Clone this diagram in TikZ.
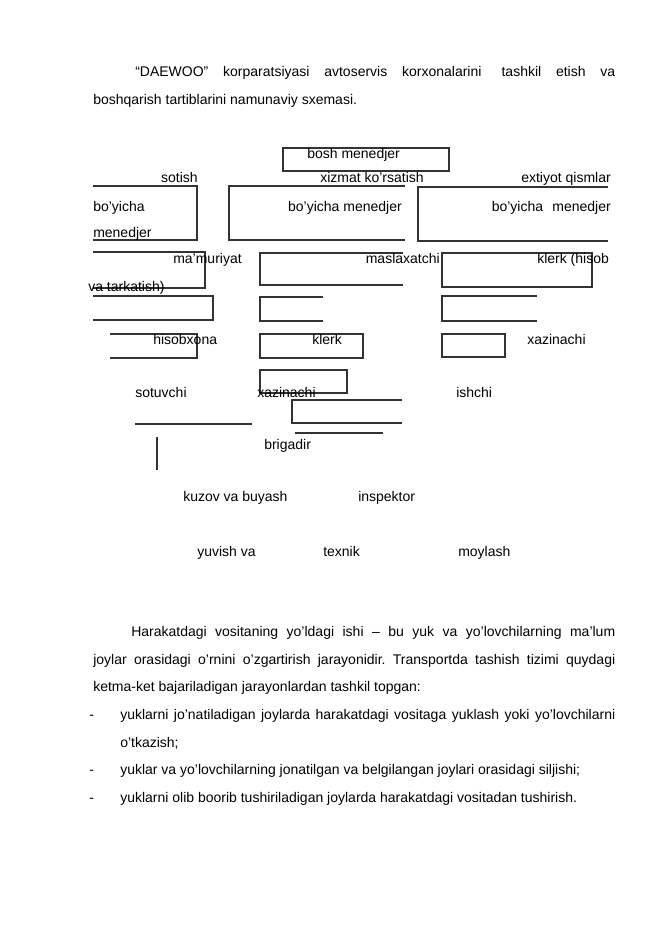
\documentclass[tikz,border=0pt]{standalone}
\usepackage{fontspec}
\setmainfont{Liberation Sans}
\begin{document}
\frenchspacing
\begin{tikzpicture}[x=0.75pt,y=-0.75pt]
\tikzset{
  ln/.style={draw=black!80, line width=0.85pt},
  txt/.style={inner sep=0pt, font=\fontsize{10.5}{12}\selectfont, text=black},
  tl/.style={txt, anchor=base west},
  tr/.style={txt, anchor=base east}
}
\useasboundingbox (0,0) rectangle (661,935);
\fill[white] (0,0) rectangle (661,935);

% title
\node[tl] (title1) at (135,76) {\makebox[360pt][s]{“DAEWOO” korparatsiyasi avtoservis korxonalarini\hspace{4pt} tashkil etish va}};
\node[tl] (title2) at (93,104) {boshqarish tartiblarini namunaviy sxemasi.};

% boxes
\draw[ln] (283,148) rectangle (449,171);
\draw[ln] (93,186) -- (197,186) -- (197,240) -- (93,240);
\draw[ln] (405,186) -- (229,186) -- (229,240) -- (405,240);
\draw[ln] (608,187) -- (418,187) -- (418,241) -- (608,241);
\draw[ln] (93,252) -- (205,252) -- (205,288) -- (93,288);
\draw[ln] (403,253) -- (260,253) -- (260,285) -- (403,285);
\draw[ln] (442,253) rectangle (592,287);
\draw[ln] (93,296) -- (213,296) -- (213,320) -- (93,320);
\draw[ln] (323,297) -- (260,297) -- (260,321) -- (323,321);
\draw[ln] (537,296) -- (442,296) -- (442,321) -- (537,321);
\draw[ln] (110,334) -- (197,334) -- (197,358) -- (110,358);
\draw[ln] (260,334) rectangle (363,358);
\draw[ln] (442,334) rectangle (505,357);
\draw[ln] (260,370) rectangle (347,393);
\draw[ln] (402,400) -- (292,400) -- (292,423) -- (402,423);
\draw[ln] (135,424) -- (252,424);
\draw[ln] (295,433) -- (383,433);
\draw[ln] (157,437) -- (157,470);

% diagram texts
\node[tl] (bosh) at (307,158) {bosh menedjer};
\node[tr] (sotish) at (198,182) {sotish};
\node[tl] (xizmat) at (320,182) {xizmat ko’rsatish};
\node[tr] (extiyot) at (611,182) {extiyot qismlar};
\node[tl] (boy1) at (93,211) {bo’yicha};
\node[tl] (men1) at (93,237) {menedjer};
\node[tr] (boy2) at (402,211) {bo’yicha menedjer};
\node[tr] (boy3) at (611,211) {bo’yicha\hspace{4pt} menedjer};
\node[tl] (mam) at (173,263) {ma’muriyat};
\node[tr] (masl) at (440,263) {maslaxatchi};
\node[tl] (klerkh) at (537,263) {klerk (hisob};
\node[tl] (vatar) at (88,291) {va tarkatish)};
\node[tl] (hisob) at (153,344) {hisobxona};
\node[tl] (klerk) at (312,344) {klerk};
\node[tl] (xaz1) at (527,344) {xazinachi};
\node[tl] (sotuv) at (135,397) {sotuvchi};
\node[tl] (xaz2) at (257,397) {xazinachi};
\node[tl] (ishchi) at (456,397) {ishchi};
\node[tl] (brig) at (264,449) {brigadir};
\node[tl] (kuzov) at (183,501) {kuzov va buyash};
\node[tl] (insp) at (358,501) {inspektor};
\node[tl] (yuvish) at (197,556) {yuvish va};
\node[tl] (texnik) at (323,556) {texnik};
\node[tl] (moylash) at (458,556) {moylash};

% paragraph
\node[tl] (p1) at (131,636) {\makebox[363pt][s]{Harakatdagi vositaning yo’ldagi ishi – bu yuk va yo’lovchilarning ma’lum}};
\node[tl] (p2) at (93,664) {\makebox[391.5pt][s]{joylar orasidagi o’rnini o’zgartirish jarayonidir. Transportda tashish tizimi quydagi}};
\node[tl] (p3) at (93,691) {ketma-ket bajariladigan jarayonlardan tashkil topgan:};
\node[tl] (d1) at (89,719) {-};
\node[tl] (p4) at (120,719) {\makebox[371.25pt][s]{yuklarni jo’natiladigan joylarda harakatdagi vositaga yuklash yoki yo’lovchilarni}};
\node[tl] (p5) at (120,747) {o’tkazish;};
\node[tl] (d2) at (89,774) {-};
\node[tl] (p6) at (120,774) {yuklar va yo’lovchilarning jonatilgan va belgilangan joylari orasidagi siljishi;};
\node[tl] (d3) at (89,802) {-};
\node[tl] (p7) at (120,802) {yuklarni olib boorib tushiriladigan joylarda harakatdagi vositadan tushirish.};
\end{tikzpicture}
\end{document}
